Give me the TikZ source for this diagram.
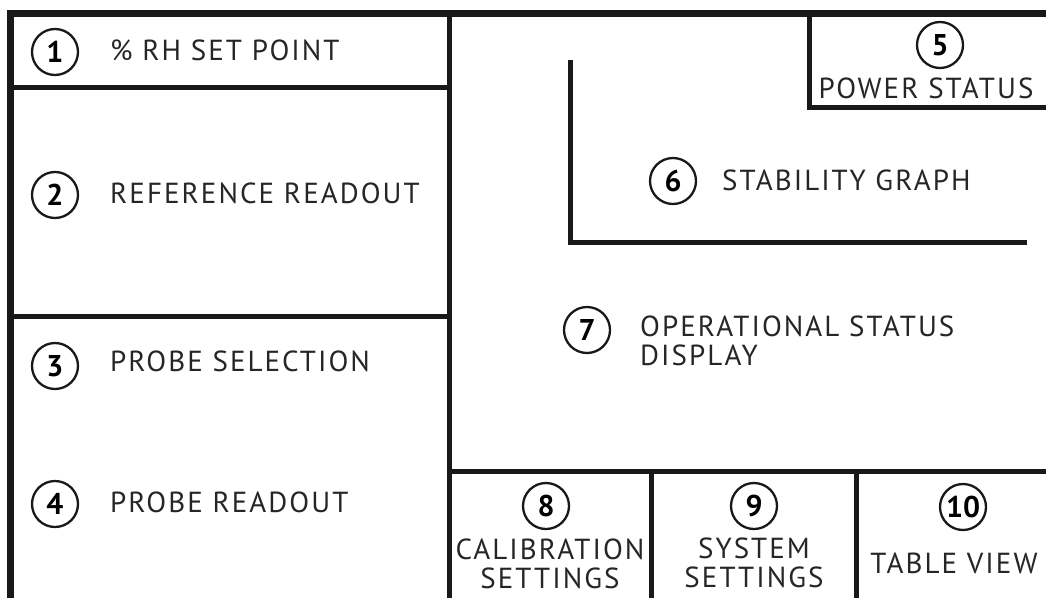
\documentclass[tikz,border=0pt]{standalone}
\usepackage{fontspec}
\setmainfont{PT Sans}[LetterSpace=7]
\newfontfamily\numfont{PT Sans}[LetterSpace=0]
\begin{document}
\begin{tikzpicture}[x=1pt,y=-1pt,
  frame/.style={line width=7pt, line join=miter, color=black!90},
  divider/.style={line width=5pt, color=black!90},
  num/.style={circle, draw=black!90, line width=2.3pt, minimum size=46pt, inner sep=0pt,
    font=\numfont\bfseries\fontsize{30}{30}\selectfont},
  lbl/.style={anchor=base west, inner sep=0pt, text=black!85,
    font=\fontsize{29}{29.5}\selectfont},
  clbl/.style={align=center, inner sep=0pt, text=black!85,
    font=\fontsize{29}{28.5}\selectfont}]
\useasboundingbox (0,0) rectangle (1046,597);
\fill[white] (0,0) rectangle (1046,597);
% frame
\draw[frame] (10.5,605) -- (10.5,13.5) -- (1055,13.5);
% dividers
\draw[divider] (449.5,13.5) -- (449.5,605);
\draw[divider] (10.5,87) -- (449.5,87);
\draw[divider] (10.5,316) -- (449.5,316);
\draw[divider] (809,13.5) -- (809,107) -- (1055,107);
\draw[divider] (570.5,60) -- (570.5,242) -- (1027,242);
\draw[divider] (449.5,471.5) -- (1055,471.5);
\draw[divider] (651,471.5) -- (651,605);
\draw[divider] (856,471.5) -- (856,605);
% left column
\node[num] (n1) at (55,52) {1};
\node[lbl] (t1) at (110,60) {\% RH SET POINT};
\node[num] (n2) at (55,195) {2};
\node[lbl] (t2) at (110,203) {REFERENCE READOUT};
\node[num] (n3) at (55,366) {3};
\node[lbl] (t3) at (110,371) {PROBE SELECTION};
\node[num] (n4) at (55,504) {4};
\node[lbl] (t4) at (110,512) {PROBE READOUT};
% right part
\node[num] (n5) at (940,45) {5};
\node[clbl] (t5) at (926,88) {POWER STATUS};
\node[num] (n6) at (673,181) {6};
\node[lbl] (t6) at (722,190) {STABILITY GRAPH};
\node[num] (n7) at (587,330) {7};
\node[lbl, align=left, anchor=west] (t7) at (640,341) {OPERATIONAL STATUS\\DISPLAY};
% bottom row
\node[num] (n8) at (546,506) {8};
\node[clbl] (t8) at (550,564) {CALIBRATION\\SETTINGS};
\node[num] (n9) at (754,506) {9};
\node[clbl] (t9) at (754,563) {SYSTEM\\SETTINGS};
\node[num] (n10) at (963,507) {10};
\node[clbl] (t10) at (954,563) {TABLE VIEW};
\end{tikzpicture}
\end{document}
